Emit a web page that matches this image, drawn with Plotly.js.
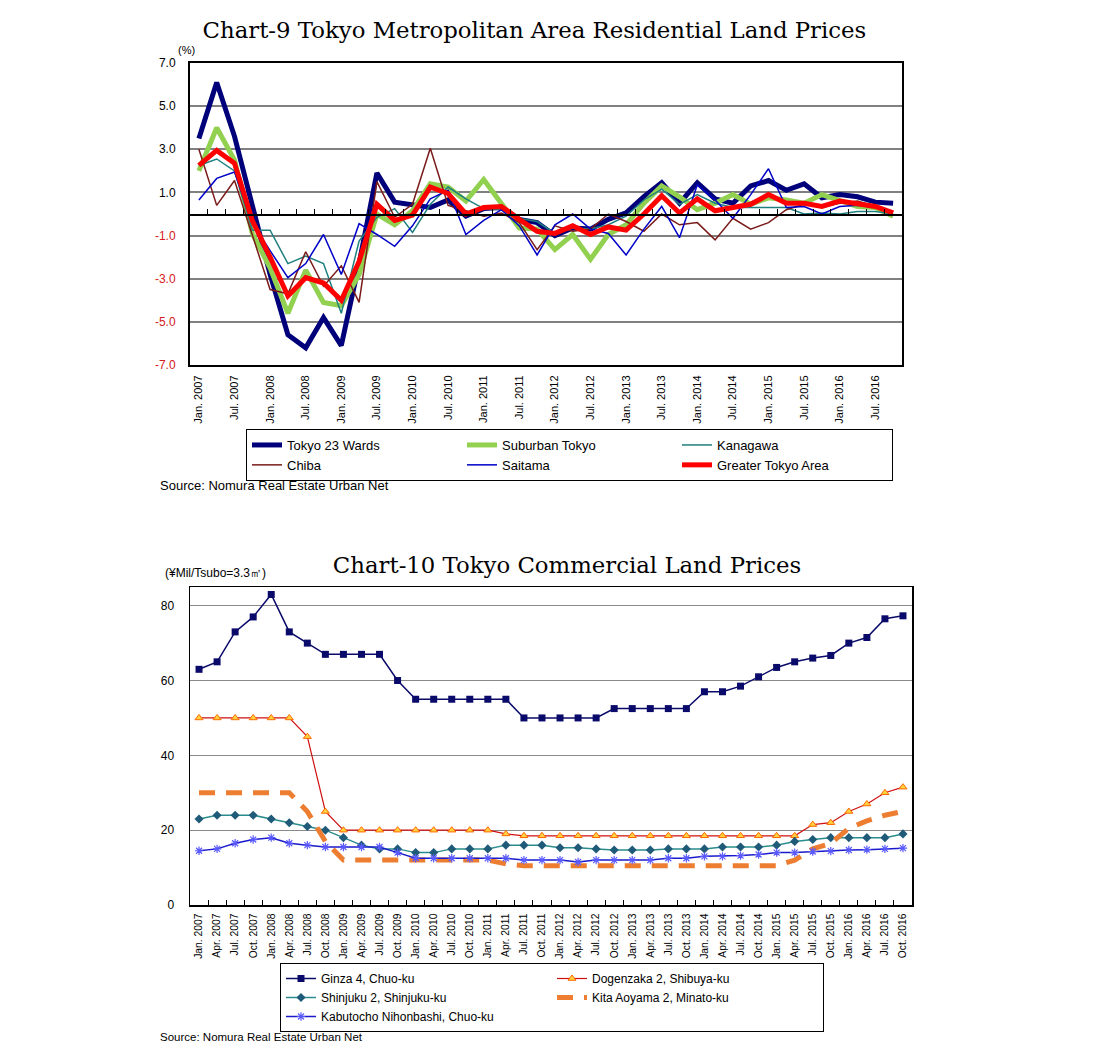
<!DOCTYPE html>
<html><head><meta charset="utf-8">
<script src="https://cdn.plot.ly/plotly-3.0.1.min.js"></script>
<style>body{margin:0;background:#fff} #c1,#c2{width:1094px;height:530px}</style>
</head><body><div id="c1"></div><div id="c2"></div>
<script>
// ---------- categories ----------
const periods = ["Jan. 2007","Apr. 2007","Jul. 2007","Oct. 2007","Jan. 2008","Apr. 2008","Jul. 2008","Oct. 2008",
"Jan. 2009","Apr. 2009","Jul. 2009","Oct. 2009","Jan. 2010","Apr. 2010","Jul. 2010","Oct. 2010",
"Jan. 2011","Apr. 2011","Jul. 2011","Oct. 2011","Jan. 2012","Apr. 2012","Jul. 2012","Oct. 2012",
"Jan. 2013","Apr. 2013","Jul. 2013","Oct. 2013","Jan. 2014","Apr. 2014","Jul. 2014","Oct. 2014",
"Jan. 2015","Apr. 2015","Jul. 2015","Oct. 2015","Jan. 2016","Apr. 2016","Jul. 2016","Oct. 2016"];
const topTickLabels = ["Jan. 2007","Jul. 2007","Jan. 2008","Jul. 2008","Jan. 2009","Jul. 2009","Jan. 2010","Jul. 2010",
"Jan. 2011","Jul. 2011","Jan. 2012","Jul. 2012","Jan. 2013","Jul. 2013","Jan. 2014","Jul. 2014","Jan. 2015","Jul. 2015","Jan. 2016","Jul. 2016"];
const topYTicks = [7,5,3,1,-1,-3,-5,-7];
const topYTickText = ["7.0","5.0","3.0","1.0","-1.0","-3.0","-5.0","-7.0"];
const bottomYTicks = [0,20,40,60,80];

// ---------- Chart-9 series (% change) ----------
const tokyo23 = [3.5,6.1,3.6,0.3,-2.8,-5.6,-6.2,-4.8,-6.1,-2.3, 1.9,0.55,0.4,0.3,0.65,-0.1,0.25,0.3,-0.25,-0.4,
 -1.0,-0.65,-0.7,-0.25,0.05,0.8,1.45,0.5,1.45,0.7, 0.5,1.3,1.55,1.1,1.4,0.75,0.9,0.8,0.55,0.5];
const suburban = [2.0,4.0,2.5,-0.9,-2.5,-4.6,-2.6,-4.1,-4.25,-2.8, 0.0,-0.5,0.15,1.4,1.25,0.6,1.6,0.45,-0.65,-0.7,
 -1.65,-0.95,-2.1,-0.95,-0.5,0.5,1.3,0.8,0.2,0.5, 0.9,0.45,0.75,0.65,0.5,0.9,0.6,0.35,0.3,-0.1];
const kanagawa = [2.25,2.55,2.0,-0.75,-0.75,-2.3,-1.95,-2.3,-4.6,-1.25, -0.15,0.25,-0.85,0.45,1.25,0.7,0.25,0.2,-0.2,-0.35,
 -0.9,-0.65,-0.7,-0.5,-0.1,0.65,1.15,0.45,0.9,0.5, 0.3,0.3,0.3,0.3,0.0,0.05,0.0,0.12,0.12,0.0];
const chiba = [3.0,0.4,1.55,-1.0,-3.5,-3.7,-1.75,-3.35,-2.4,-4.1, 1.5,-0.15,0.45,3.05,0.4,0.15,-0.1,0.05,-0.4,-1.65,
 -0.55,-0.8,-0.7,0.0,-0.35,-0.8,0.0,-0.5,-0.4,-1.2, -0.2,-0.7,-0.4,0.2,0.45,0.3,0.5,0.6,0.35,0.1];
const saitama = [0.65,1.65,1.95,-0.4,-1.7,-2.95,-2.3,-0.95,-2.8,-0.45, -0.95,-1.5,-0.55,0.7,1.1,-0.95,-0.3,0.2,-0.55,-1.9,
 -0.5,0.0,-0.7,-0.9,-1.9,-0.7,0.35,-1.1,1.35,0.65, -0.2,0.9,2.1,0.3,0.35,0.0,0.35,0.4,0.3,0.1];
const greater = [2.25,2.95,2.35,-0.3,-2.0,-3.8,-2.95,-3.2,-4.0,-2.2, 0.45,-0.3,-0.05,1.25,0.95,0.0,0.3,0.35,-0.25,-0.8,
 -0.9,-0.55,-0.95,-0.6,-0.75,0.0,0.85,0.05,0.7,0.15, 0.3,0.45,0.9,0.5,0.5,0.35,0.6,0.5,0.35,0.05];

// ---------- Chart-10 series (¥Mil/Tsubo) ----------
const ginza = [63,65,73,77,83,73,70,67,67,67, 67,60,55,55,55,55,55,55,50,50,
 50,50,50,52.5,52.5,52.5,52.5,52.5,57,57, 58.5,61,63.5,65,66,66.7,70,71.5,76.5,77.3];
const dogenzaka = [50,50,50,50,50,50,45,25,20,20, 20,20,20,20,20,20,20,19,18.5,18.5,
 18.5,18.5,18.5,18.5,18.5,18.5,18.5,18.5,18.5,18.5, 18.5,18.5,18.5,18.5,21.5,22,25,27,30,31.5];
const shinjuku = [23,24,24,24,23,22,21,20,18,16, 15,15,14,14,15,15,15,16,16,16,
 15.3,15.3,15,14.7,14.7,14.7,15,15,15,15.5, 15.5,15.5,16,17,17.5,18,18,18,18,19];
const kitaAoyama = [30,30,30,30,30,30,25,17,12,12, 12,12,12,12,12,12,12,11,10.5,10.5,
 10.5,10.5,10.5,10.5,10.5,10.5,10.5,10.5,10.5,10.5, 10.5,10.5,10.5,12,15,16.5,20.5,22.5,24,25];
const kabutocho = [14.5,15,16.5,17.5,18,16.5,16,15.5,15.5,15.5, 15.5,14,12.5,12.5,12.5,12.5,12.5,12.5,12,12,
 12,11.5,12,12,12,12,12.5,12.5,13,13, 13.2,13.5,14,14,14.3,14.4,14.7,14.8,15,15.2];

const FONT = 'Liberation Sans, Arial, sans-serif';
const SERIF = 'DejaVu Serif, Liberation Serif, serif';

// ---------- Chart-9 ----------
const topSeries = [
  {name:'Tokyo 23 Wards', y:tokyo23, color:'#00007a', w:5},
  {name:'Suburban Tokyo', y:suburban, color:'#92d050', w:5},
  {name:'Kanagawa', y:kanagawa, color:'#1f7f7f', w:1.5},
  {name:'Chiba', y:chiba, color:'#7a1a1a', w:1.5},
  {name:'Saitama', y:saitama, color:'#0000c8', w:1.5},
  {name:'Greater Tokyo Area', y:greater, color:'#ff0000', w:5}
];
const data1 = topSeries.map(s => ({type:'scatter', mode:'lines', x:periods, y:s.y, name:s.name,
  line:{color:s.color, width:s.w}, hoverinfo:'x+y+name'}));
data1.push({type:'scatter', mode:'lines', x:periods, y:greater, xaxis:'x2', yaxis:'y',
  line:{width:0, color:'rgba(0,0,0,0)'}, opacity:0, showlegend:false, hoverinfo:'skip'});

const layout1 = {
  width:1094, height:530, margin:{l:190, r:192, t:63, b:165},
  paper_bgcolor:'#fff', plot_bgcolor:'#fff', font:{family:FONT, size:12, color:'#000'},
  title:{text:'Chart-9 Tokyo Metropolitan Area Residential Land Prices',
    font:{family:SERIF, size:22.8, color:'#000'}, xref:'container', x:0.4885, xanchor:'center',
    yref:'container', y:1-30/530, yanchor:'middle'},
  xaxis:{type:'category', categoryorder:'array', categoryarray:periods, range:[-0.5,39.5],
    tickmode:'array', tickvals:topTickLabels, ticktext:topTickLabels, tickangle:-90, ticks:'',
    showline:true, mirror:true, linecolor:'#000', linewidth:2, showgrid:false, zeroline:false,
    tickfont:{size:11}, ticklabelstandoff:4},
  xaxis2:{type:'category', overlaying:'x', anchor:'free', position:0.5, side:'bottom',
    categoryorder:'array', categoryarray:periods, range:[-0.5,39.5],
    tickmode:'linear', tick0:0, dtick:1, tickson:'boundaries', ticks:'inside', ticklen:5,
    tickcolor:'#000', tickwidth:1, showticklabels:false, showline:true, linecolor:'#000',
    linewidth:1.5, showgrid:false, zeroline:false},
  yaxis:{range:[-7,7], tickmode:'array', tickvals:topYTicks,
    ticktext:topYTickText.map(t => t.startsWith('-') ? '<span style="color:#d42020">'+t+'</span>' : t),
    showgrid:true, gridcolor:'#808080', gridwidth:2, zeroline:false, showline:true, mirror:true,
    linecolor:'#000', linewidth:2, ticks:'', ticklabelstandoff:10, tickfont:{size:12}},
  showlegend:true,
  legend:{orientation:'h', xref:'paper', yref:'paper', x:(246-190)/712, y:(365-429)/302,
    xanchor:'left', yanchor:'top', bordercolor:'#000', borderwidth:1, bgcolor:'#fff',
    entrywidth:170, font:{size:13, family:FONT}, traceorder:'normal', tracegroupgap:0},
  annotations:[
    {text:'(%)', xref:'paper', yref:'paper', x:(186-190)/712, y:(365-50)/302, xanchor:'center',
      yanchor:'middle', showarrow:false, font:{size:11}},
    {text:'Source: Nomura Real Estate Urban Net', xref:'paper', yref:'paper', x:(158-190)/712,
      y:(365-485)/302, xanchor:'left', yanchor:'middle', showarrow:false, font:{size:13}}
  ]
};
Plotly.newPlot('c1', data1, layout1, {displayModeBar:false, staticPlot:true});

// ---------- Chart-10 ----------
const data2 = [
  {name:'Ginza 4, Chuo-ku', y:ginza, mode:'lines+markers', line:{color:'#0a0a6a', width:1.5},
    marker:{symbol:'square', size:7, color:'#0a0a6a'}},
  {name:'Dogenzaka 2, Shibuya-ku', y:dogenzaka, mode:'lines+markers', line:{color:'#d01010', width:1.2},
    marker:{symbol:'triangle-up', size:7, color:'#ffd040', line:{color:'#ff6a00', width:1}}},
  {name:'Shinjuku 2, Shinjuku-ku', y:shinjuku, mode:'lines+markers', line:{color:'#2a8c8c', width:1.5},
    marker:{symbol:'diamond', size:7, color:'#1f5a78'}},
  {name:'Kita Aoyama 2, Minato-ku', y:kitaAoyama, mode:'lines', line:{color:'#ed7d31', width:5, dash:'16px,11px'}},
  {name:'Kabutocho Nihonbashi, Chuo-ku', y:kabutocho, mode:'lines+markers', line:{color:'#1a1acc', width:1.5},
    marker:{symbol:'asterisk-open', size:7, color:'#5a5aff', line:{color:'#5a5aff', width:1.2}}}
].map(t => Object.assign({type:'scatter', x:periods, hoverinfo:'x+y+name'}, t));

const layout2 = {
  width:1094, height:530, margin:{l:190, r:182, t:57, b:155},
  paper_bgcolor:'#fff', plot_bgcolor:'#fff', font:{family:FONT, size:12, color:'#000'},
  title:{text:'Chart-10 Tokyo Commercial Land Prices', font:{family:SERIF, size:22.8, color:'#000'},
    xref:'container', x:567/1094, xanchor:'center', yref:'container', y:1-35/530, yanchor:'middle'},
  xaxis:{type:'category', categoryorder:'array', categoryarray:periods, range:[-0.5,39.5],
    tickmode:'linear', tick0:0, dtick:1, tickson:'boundaries', ticks:'inside', ticklen:5,
    tickcolor:'#000', tickangle:-90, showline:true, mirror:true, linecolor:'#000', linewidth:1.5,
    showgrid:false, zeroline:false, tickfont:{size:10.3}, ticklabelstandoff:3},
  yaxis:{range:[0,85], tickmode:'array', tickvals:bottomYTicks, showgrid:true, gridcolor:'#8a8a8a',
    gridwidth:1, zeroline:false, showline:true, mirror:true, linecolor:'#000', linewidth:1.5,
    ticks:'', ticklabelstandoff:12, tickfont:{size:12}},
  showlegend:true,
  legend:{orientation:'h', xref:'paper', yref:'paper', x:(280-190)/722, y:(375-433)/318,
    xanchor:'left', yanchor:'top', bordercolor:'#000', borderwidth:1, bgcolor:'#fff',
    entrywidth:226, font:{size:12, family:FONT}, traceorder:'normal', tracegroupgap:0},
  annotations:[
    {text:'(¥Mil/Tsubo=3.3㎡)', xref:'paper', yref:'paper', x:(163-190)/722, y:(375-43)/318,
      xanchor:'left', yanchor:'middle', showarrow:false, font:{size:12}},
    {text:'Source: Nomura Real Estate Urban Net', xref:'paper', yref:'paper', x:(158-190)/722,
      y:(375-507)/318, xanchor:'left', yanchor:'middle', showarrow:false, font:{size:11.5}}
  ]
};
Plotly.newPlot('c2', data2, layout2, {displayModeBar:false, staticPlot:true});
</script>
</body></html>
